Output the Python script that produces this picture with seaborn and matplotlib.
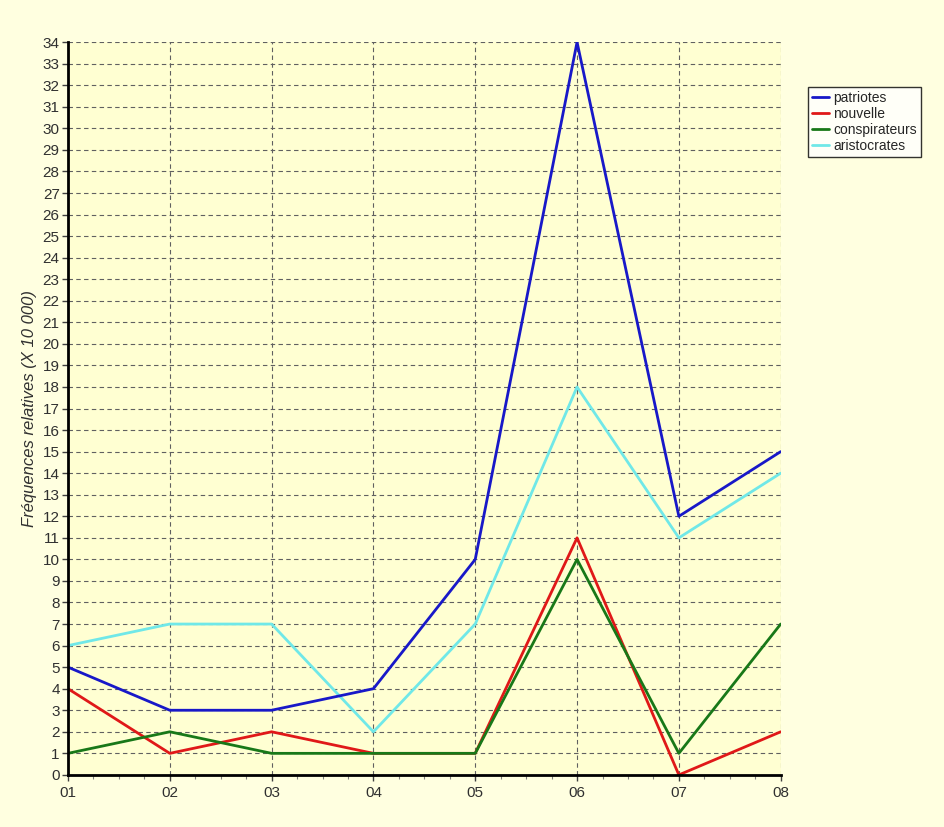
import matplotlib
matplotlib.use('Agg')
import matplotlib.pyplot as plt
from matplotlib.ticker import MultipleLocator
import pandas as pd
import seaborn as sns

# Données
periodes = ['01', '02', '03', '04', '05', '06', '07', '08']
patriotes = [5, 3, 3, 4, 10, 34, 12, 15]
nouvelle = [4, 1, 2, 1, 1, 11, 0, 2]
conspirateurs = [1, 2, 1, 1, 1, 10, 1, 7]
aristocrates = [6, 7, 7, 2, 7, 18, 11, 14]

df = pd.DataFrame({
    'periode': periodes,
    'patriotes': patriotes,
    'nouvelle': nouvelle,
    'conspirateurs': conspirateurs,
    'aristocrates': aristocrates,
})
df = df.melt(id_vars='periode', var_name='mot', value_name='freq')

couleurs = {'patriotes': '#1818c8', 'nouvelle': '#e01818',
            'conspirateurs': '#187818', 'aristocrates': '#70e8e8'}
# ordre de tracé : le vert passe au-dessus du rouge
ordre = ['aristocrates', 'patriotes', 'nouvelle', 'conspirateurs']

sns.set_style('white')
plt.rcParams['font.family'] = ['Liberation Sans', 'DejaVu Sans']
fig = plt.figure(figsize=(9.44, 8.27), dpi=100, facecolor='#ffffe0')
ax = fig.add_axes([0.072, 0.063, 0.755, 0.886])
ax.set_facecolor('#ffffd2')

for mot in ordre:
    sns.lineplot(data=df[df['mot'] == mot], x='periode', y='freq', color=couleurs[mot],
                 linewidth=2, ax=ax, sort=False, label=mot, legend=False)

ax.set_xlim(0, 7)
ax.set_ylim(0, 34)
ax.yaxis.set_major_locator(MultipleLocator(1))
ax.xaxis.set_minor_locator(MultipleLocator(0.25))
ax.grid(True, which='major', color='#606060', linestyle=(0, (4, 3)), linewidth=0.8)
ax.set_axisbelow(True)

for s in ['top', 'right']:
    ax.spines[s].set_visible(False)
for s in ['left', 'bottom']:
    ax.spines[s].set_linewidth(2)
    ax.spines[s].set_color('black')

ax.tick_params(axis='both', which='major', length=4, width=1, color='#404040',
               labelsize=11, labelcolor='#303030', direction='out', bottom=True, left=True)
ax.tick_params(axis='x', which='minor', length=3, width=0.8, color='#808080',
               direction='out', bottom=True)
ax.tick_params(axis='x', pad=4)
ax.tick_params(axis='y', pad=2)

ax.set_xlabel('')
ax.set_ylabel('Fréquences relatives (X 10 000)', fontsize=12, fontstyle='italic', color='#303030')

handles = {l.get_label(): l for l in ax.get_lines()}
noms = ['patriotes', 'nouvelle', 'conspirateurs', 'aristocrates']
leg = fig.legend([handles[n] for n in noms], noms, loc='upper left',
                 bbox_to_anchor=(0.856, 0.895), fontsize=10, frameon=True, fancybox=False,
                 edgecolor='black', facecolor='white', handlelength=1.2, handletextpad=0.3,
                 borderpad=0.3, labelspacing=0.15, borderaxespad=0)
leg.get_frame().set_linewidth(1)

fig.savefig('out.png', dpi=100, facecolor=fig.get_facecolor())
